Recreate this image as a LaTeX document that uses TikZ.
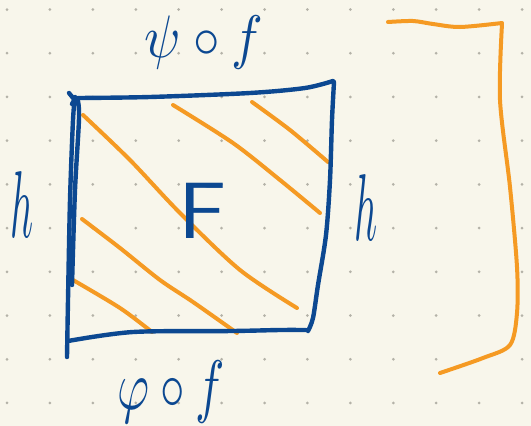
\documentclass[tikz,border=0pt]{standalone}
\usepackage{graphicx}
\definecolor{paper}{HTML}{F8F6EB}
\definecolor{dotc}{HTML}{B4B2A8}
\definecolor{ink}{HTML}{0C4891}
\definecolor{hatch}{HTML}{F59A23}
\tikzset{
  bluestroke/.style={draw=ink, line width=4.4pt, line cap=round, line join=round},
  orangestroke/.style={draw=hatch, line width=4pt, line cap=round, line join=round},
  label/.style={text=ink, inner sep=0pt}
}
\begin{document}
\begin{tikzpicture}[x=1pt,y=-1pt]
\fill[paper] (0,0) rectangle (531,426);
\useasboundingbox (0,0) rectangle (531,426);
% dot grid
\foreach \i in {0,...,12}{
  \foreach \j in {0,...,9}{
    \fill[dotc] ({7+\i*42.92},{9.5+\j*43.72}) circle (1.5);
  }
}
% hatching
\draw[orangestroke] plot[smooth] coordinates {(83,115) (130,160) (180,213) (240,270) (297,308)};
\draw[orangestroke] plot[smooth] coordinates {(173,105) (233,143) (280,180) (320,213)};
\draw[orangestroke] plot[smooth] coordinates {(252,102) (290,130) (328,162)};
\draw[orangestroke] plot[smooth] coordinates {(82,219) (120,248) (160,280) (193,302) (237,333)};
\draw[orangestroke] plot[smooth] coordinates {(73,280) (120,308) (152,332)};
% square
\draw[bluestroke] plot[smooth] coordinates {(67,357) (68,300) (70,200) (73,120) (75,97)};
\draw[bluestroke] plot[smooth] coordinates {(72,285) (75,190) (79,118) (77,98) (72,104)};
\draw[bluestroke] (69,93) -- (78,104);
\draw[bluestroke] plot[smooth] coordinates {(78,98) (150,97) (250,93) (305,88) (333,81)};
\draw[bluestroke] plot[smooth] coordinates {(334,82) (332,120) (330,180) (326,235) (318,285) (313,318) (308,331)};
\draw[bluestroke] plot[smooth] coordinates {(306,330) (280,330) (233,331) (133,332) (68,341)};
% bracket
\draw[orangestroke] plot[smooth] coordinates {(388,22) (413,21) (433,24) (460,27) (502,23)};
\draw[orangestroke] plot[smooth] coordinates {(502,24) (500,100) (510,187) (517,267) (517,313) (510,345) (483,358) (440,373)};
% labels
\node[label] (top) at (204,42) {\scalebox{5.3}[6]{$\psi\circ f$}};
\node[label] (bot) at (171,392) {\scalebox{4.9}[7]{$\varphi\circ f$}};
\node[label] (hl) at (22,205) {\scalebox{4}[9.5]{$h$}};
\node[label] (hr) at (366,208) {\scalebox{4}[9.5]{$h$}};
\node[label] (F) at (203,211) {\scalebox{8.5}[8]{\sffamily F}};
\end{tikzpicture}
\end{document}
